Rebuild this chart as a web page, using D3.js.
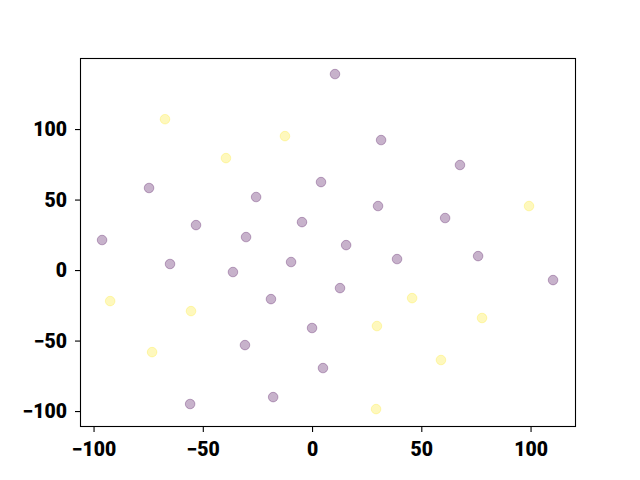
<!DOCTYPE html>
<html>
<head>
<meta charset="utf-8">
<script src="https://cdn.jsdelivr.net/npm/d3@7"></script>
<style>
  body { margin: 0; background: #fff; }
  .tick text { font-family: Roboto, sans-serif; font-weight: 900; font-size: 19.4px; fill: #000; }
</style>
</head>
<body>
<div id="chart"></div>
<script>
// two groups of points
var purple_x = [10.5, 31.6, 67.7, 4.1, -74.6, -25.6, 30.2, 60.9, -4.6, -53.1, -30.2, -96.1, 15.6,
                76.0, 38.9, -9.6, -65.0, -36.2, 110.3, 12.8, -18.8, 0.0, -30.7, 5.0, -17.8, -55.8];
var purple_y = [139, 92.2, 74.5, 62.4, 58.2, 51.8, 45.4, 36.9, 34.0, 31.9, 23.4, 21.3, 17.7,
                9.9, 7.8, 5.7, 4.3, -1.4, -7.1, -12.8, -20.6, -41.1, -53.2, -69.5, -90.1, -95.0];
var yellow_x = [-67.3, -12.4, -39.4, 99.3, -92.4, 45.8, -55.4, 77.8, 29.7, -73.2, 59.0, 29.3];
var yellow_y = [107, 95, 79.4, 45.4, -22.0, -19.9, -29.1, -34.0, -39.7, -58.2, -63.8, -98.6];
var x_ticks = [-100, -50, 0, 50, 100];
var y_ticks = [-100, -50, 0, 50, 100];

var width = 640, height = 480;
var margin = {top: 58, right: 64, bottom: 53, left: 80};

var svg = d3.select('#chart').append('svg')
    .attr('width', width)
    .attr('height', height);

var xScale = d3.scaleLinear().domain([-106.2, 120.8]).range([margin.left, width - margin.right]);
var yScale = d3.scaleLinear().domain([-111.3, 150.4]).range([height - margin.bottom, margin.top]);

var fmt = function(d){ return String(d).replace('-', '\u2212'); };

svg.append('g')
    .attr('transform', 'translate(0,' + (height - margin.bottom) + ')')
    .call(d3.axisBottom(xScale).tickValues(x_ticks).tickFormat(fmt).tickSize(5).tickSizeOuter(0).tickPadding(10))
    .call(function(g){ g.select('.domain').remove(); });

svg.append('g')
    .attr('transform', 'translate(' + margin.left + ',0)')
    .call(d3.axisLeft(yScale).tickValues(y_ticks).tickFormat(fmt).tickSize(5).tickSizeOuter(0).tickPadding(8))
    .call(function(g){ g.select('.domain').remove(); })
    .selectAll('.tick text').attr('dy', '0.35em');

svg.selectAll('.tick line').attr('stroke', '#000').attr('stroke-width', 1.1);

// frame
svg.append('rect')
    .attr('x', margin.left + 0.5)
    .attr('y', margin.top + 0.5)
    .attr('width', width - margin.left - margin.right - 1)
    .attr('height', height - margin.top - margin.bottom - 1)
    .attr('fill', 'none')
    .attr('stroke', '#000')
    .attr('stroke-width', 1.1);

var purple = purple_x.map(function(d, i){ return {x: d, y: purple_y[i], c: '#440154'}; });
var yellow = yellow_x.map(function(d, i){ return {x: d, y: yellow_y[i], c: '#fde725'}; });

svg.append('g').selectAll('circle')
    .data(purple.concat(yellow))
    .enter()
    .append('circle')
    .attr('cx', function(d){ return xScale(d.x); })
    .attr('cy', function(d){ return yScale(d.y); })
    .attr('r', 4.8)
    .attr('fill', function(d){ return d.c; })
    .attr('fill-opacity', 0.3)
    .attr('stroke', function(d){ return d.c; })
    .attr('stroke-opacity', 0.3)
    .attr('stroke-width', 1);
</script>
</body>
</html>
